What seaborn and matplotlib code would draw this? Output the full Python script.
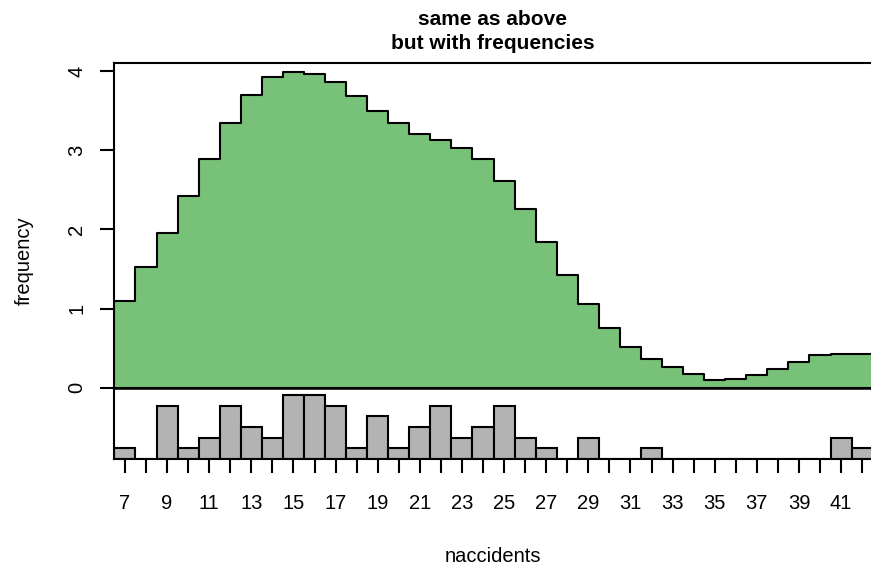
import numpy as np
import pandas as pd
import matplotlib
matplotlib.use("Agg")
import matplotlib.pyplot as plt
import seaborn as sns

# ---- data ----
naccidents = list(range(7, 43))
frequency = [1.10, 1.53, 1.96, 2.42, 2.89, 3.35, 3.70, 3.92, 3.99, 3.97,
             3.86, 3.68, 3.50, 3.34, 3.21, 3.13, 3.03, 2.89, 2.61, 2.26,
             1.84, 1.43, 1.06, 0.75, 0.51, 0.36, 0.26, 0.17, 0.10, 0.11,
             0.16, 0.24, 0.33, 0.41, 0.43, 0.43]
counts = [1, 0, 5, 1, 2, 5, 3, 2, 6, 6,
          5, 1, 4, 1, 3, 5, 2, 3, 5, 2,
          1, 0, 2, 0, 0, 1, 0, 0, 0, 0,
          0, 0, 0, 0, 2, 1]
ytick_vals = [0, 1, 2, 3, 4]
xtick_labels = [str(v) if v % 2 == 1 else "" for v in naccidents]

sns.set_theme(style="white")
plt.rcParams["font.family"] = ["Liberation Sans", "DejaVu Sans"]

W, H = 871, 570
fig = plt.figure(figsize=(W / 100, H / 100), dpi=100)
left, right, top, bottom = 114, 871, 63, 459
ax = fig.add_axes([left / W, 1 - bottom / H, (right - left) / W, (bottom - top) / H])

df = pd.DataFrame({"naccidents": naccidents, "frequency": frequency})
sns.histplot(data=df, x="naccidents", weights="frequency", discrete=True,
             element="step", fill=True, color="#77C278", alpha=1.0,
             edgecolor="black", linewidth=1.5, ax=ax)

# gray count histogram hanging below zero
base = -0.9
scale = 0.1347
ax.bar(naccidents, [c * scale for c in counts], bottom=base, width=1.0,
       color="#B3B3B3", edgecolor="black", linewidth=1.5)

ax.axhline(0, color="black", linewidth=1.8, zorder=5)

ax.set_xlim(6.48, 42.42)
ax.set_ylim(-0.9, 4.103)

for s in ["top", "left", "bottom"]:
    ax.spines[s].set_visible(True)
    ax.spines[s].set_color("black")
    ax.spines[s].set_linewidth(1.5)
ax.spines["right"].set_visible(False)

fs = 14.5
ax.set_xticks(naccidents)
ax.set_xticklabels(xtick_labels)
ax.set_yticks(ytick_vals)
ax.set_yticklabels([str(v) for v in ytick_vals], rotation=90, va="center")
ax.tick_params(axis="both", direction="out", length=10, width=1.5,
               color="black", labelsize=fs, labelcolor="black")
ax.tick_params(axis="x", pad=15, bottom=True)
ax.tick_params(axis="y", pad=10, left=True)

ax.set_xlabel("naccidents", fontsize=fs, color="black")
ax.set_ylabel("frequency", fontsize=fs, color="black")
ax.xaxis.set_label_coords(0.5, (bottom - 547.5) / (bottom - top))
ax.yaxis.set_label_coords((34 - left) / (right - left), 0.5)

ax.set_title("same as above\nbut with frequencies", fontsize=15,
             fontweight="bold", pad=10, linespacing=1.37, color="black")

fig.savefig("out.png", dpi=100)
